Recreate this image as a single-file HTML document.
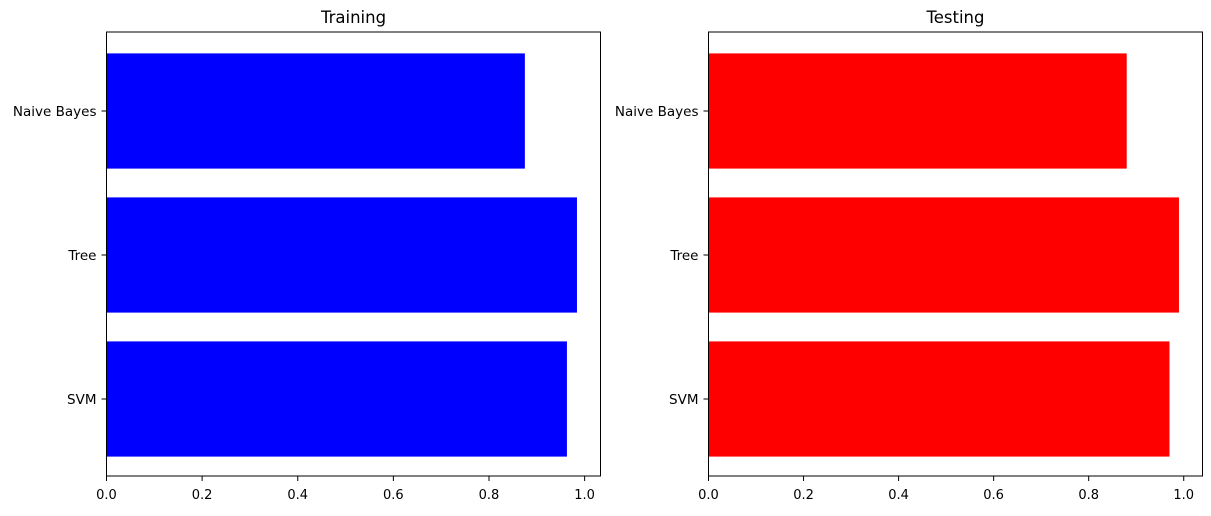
<!DOCTYPE html>
<html><head><meta charset="utf-8"><style>
body{margin:0;background:#fff;}
svg{font-family:"DejaVu Sans","Liberation Sans",sans-serif;}
</style></head><body>
<svg id="chart" width="1211" height="511" xmlns="http://www.w3.org/2000/svg"></svg>
<script>
const categories = ["SVM", "Tree", "Naive Bayes"];
const trainValues = [0.963, 0.984, 0.875];
const testValues = [0.970, 0.990, 0.880];
const tickLabels = ["0.0", "0.2", "0.4", "0.6", "0.8", "1.0"];
const tickValues = [0, 0.2, 0.4, 0.6, 0.8, 1.0];

const svgEl = document.getElementById('chart');
const NS = "http://www.w3.org/2000/svg";
function mk(tag, attrs, parent) {
  const e = document.createElementNS(NS, tag);
  for (const k in attrs) e.setAttribute(k, attrs[k]);
  (parent || svgEl).appendChild(e);
  return e;
}
const axTop = 32, axBottom = 476;
const catStep = 144, catBase = 399;
function yScale(i) { return catBase - catStep * i; }

function panel(left, right, values, color, title, key) {
  const g = mk('g', {});
  
  
  const maxV = Math.max(...values) * 1.05;
  const xScale = v => left + (v / maxV) * (right - left);
  values.forEach((v, i) => {
    const r = mk('rect', {x: xScale(0), y: yScale(i) - catStep * 0.4, width: xScale(v) - xScale(0), height: catStep * 0.8, fill: color}, g);
    
    
  });
  const frame = mk('rect', {x: left, y: axTop, width: right - left, height: axBottom - axTop, fill: 'none', stroke: '#000', 'stroke-width': 1}, g);
  
  
  tickValues.forEach((t, i) => {
    const x = xScale(t);
    mk('line', {x1: x, x2: x, y1: axBottom, y2: axBottom + 5, stroke: '#000'}, g);
    const tx = mk('text', {x: x, y: axBottom + 23, 'font-size': 13, 'text-anchor': 'middle'}, g);
    tx.textContent = tickLabels[i];
    
    
  });
  categories.forEach((c, i) => {
    const y = yScale(i);
    mk('line', {x1: left - 5, x2: left, y1: y, y2: y, stroke: '#000'}, g);
    const tx = mk('text', {x: left - 10, y: y + 5, 'font-size': 13.5, 'text-anchor': 'end'}, g);
    tx.textContent = c;
    
    
  });
  const tt = mk('text', {x: (left + right) / 2, y: axTop - 9, 'font-size': 16.5, 'text-anchor': 'middle'}, g);
  tt.textContent = title;
  
  
}
panel(106.5, 600.5, trainValues, '#0000ff', 'Training', 'training');
panel(708.5, 1202.5, testValues, '#ff0000', 'Testing', 'testing');
</script>
</body></html>
